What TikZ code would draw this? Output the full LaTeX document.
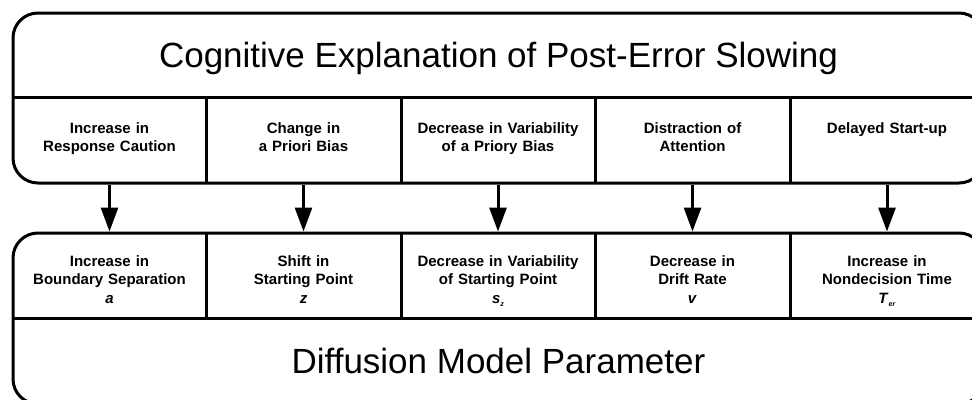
\documentclass[tikz,border=0pt]{standalone}
\usepackage{fontspec}
\setmainfont{Liberation Sans}
\usetikzlibrary{arrows.meta}
\begin{document}
\begin{tikzpicture}[x=1pt,y=-1pt,
  bigbox/.style={draw,line width=3pt,rounded corners=25pt,minimum width=971pt,inner sep=0pt},
  divider/.style={line width=3pt},
  cell/.style={anchor=north,inner sep=0pt,text width=190pt,align=center,font=\fontsize{15}{18.5}\selectfont\bfseries},
  headline/.style={anchor=base,inner sep=0pt,font=\fontsize{35}{42}\selectfont},
  arr/.style={line width=3pt,-{Triangle[width=17pt,length=24pt]}}]
\useasboundingbox (0,0) rectangle (972,399);
\clip (0,0) rectangle (972,399);
% boxes
\node[bigbox,minimum height=170pt] (topbox) at (498.5,98) {};
\node[bigbox,minimum height=171pt] (botbox) at (498.5,318.5) {};
\draw[divider] (13,97) -- (984,97);
\draw[divider] (13,318) -- (984,318);
\foreach \x in {206,401,595,790}{
  \draw[divider] (\x,97) -- (\x,183);
  \draw[divider] (\x,233) -- (\x,318);
}
% titles
\node[headline] (title) at (498.5,67) {Cognitive Explanation of Post-Error Slowing};
\node[headline] (subtitle) at (498.5,373) {Diffusion Model Parameter};
% top cells
\node[cell] (t1) at (109.5,122) {Increase in\\Response Caution};
\node[cell] (t2) at (303.5,122) {Change in\\a Priori Bias};
\node[cell] (t3) at (498,122) {Decrease in Variability\\of a Priory Bias};
\node[cell] (t4) at (692.5,122) {Distraction of\\Attention};
\node[cell] (t5) at (887,122) {Delayed Start-up};
% bottom cells
\node[cell] (b1) at (109.5,255) {Increase in\\Boundary Separation\\\textit{a}};
\node[cell] (b2) at (303.5,255) {Shift in\\Starting Point\\\textit{z}};
\node[cell] (b3) at (498,255) {Decrease in Variability\\of Starting Point\\\textit{s}\raisebox{-3pt}{\fontsize{7}{7}\selectfont\textit{z}}};
\node[cell] (b4) at (692.5,255) {Decrease in\\Drift Rate\\\textit{v}};
\node[cell] (b5) at (887,255) {Increase in\\Nondecision Time\\\textit{T}\raisebox{-3pt}{\fontsize{7}{7}\selectfont\textit{er}}};
% arrows
\foreach \i in {1,...,5}{
  \draw[arr] (t\i |- topbox.south) -- (b\i |- botbox.north);
}
\end{tikzpicture}
\end{document}
